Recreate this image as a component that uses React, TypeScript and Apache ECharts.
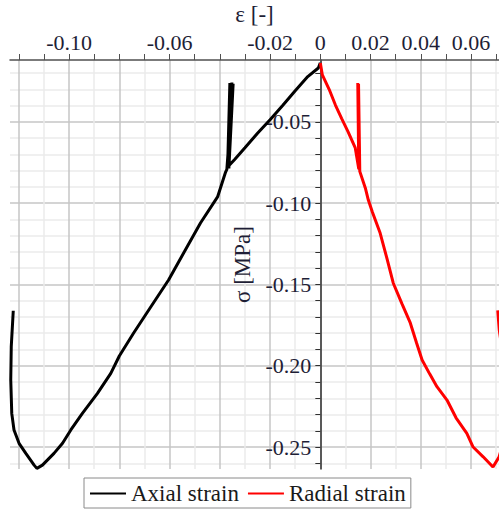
import React, { useEffect, useRef } from "react";
import * as echarts from "echarts";

// ---- data ----
const axialStrain = [
  0, -0.0008, -0.005, -0.01, -0.015, -0.02, -0.025, -0.03, -0.034, -0.0369,
  -0.036, -0.0366, -0.0352, -0.0364, -0.0347, -0.0372,
  -0.0377, -0.0409, -0.0477, -0.0544, -0.0604, -0.0675, -0.0743, -0.08, -0.0834,
  -0.0887, -0.0947, -0.0993, -0.1026, -0.106, -0.1106, -0.1128, -0.1139, -0.1172,
  -0.1199, -0.1219, -0.1228, -0.1232, -0.123, -0.1222,
];
const axialStress = [
  -0.0138, -0.0169, -0.0222, -0.0309, -0.04, -0.0487, -0.057, -0.066, -0.073, -0.0778,
  -0.0262, -0.0782, -0.0258, -0.0786, -0.0266, -0.0792,
  -0.0809, -0.0962, -0.1122, -0.1307, -0.1473, -0.1639, -0.1799, -0.194, -0.2047,
  -0.217, -0.2293, -0.2395, -0.2477, -0.2539, -0.2611, -0.2631, -0.2611, -0.2539,
  -0.2477, -0.2395, -0.2293, -0.2088, -0.1883, -0.1662,
];
const radialStrain = [
  0, 0.0008, 0.0035, 0.006, 0.0085, 0.0111, 0.0139, 0.0147, 0.0153,
  0.0149, 0.0155, 0.0152, 0.0157,
  0.0179, 0.0191, 0.0207, 0.0238, 0.0265, 0.029, 0.0325, 0.0358, 0.0383, 0.0405,
  0.0435, 0.0464, 0.0504, 0.054, 0.0583, 0.0608, 0.0648, 0.0687, 0.0711, 0.0728,
  0.0737, 0.0738, 0.0725, 0.0712, 0.0706,
];
const radialStress = [
  -0.0138, -0.0212, -0.03, -0.0397, -0.048, -0.0563, -0.0661, -0.0735, -0.079,
  -0.0262, -0.0795, -0.0268, -0.0805,
  -0.0907, -0.0981, -0.1055, -0.1184, -0.134, -0.1491, -0.162, -0.1737, -0.186, -0.1965,
  -0.205, -0.2129, -0.2211, -0.232, -0.2416, -0.25, -0.256, -0.2623, -0.2562, -0.247,
  -0.23, -0.21, -0.192, -0.178, -0.166,
];

const seriesNames = ["Axial strain", "Radial strain"];

// ---- axis ticks ----
const xTickValues = [
  -0.12, -0.11, -0.1, -0.09, -0.08, -0.07, -0.06, -0.05, -0.04, -0.03, -0.02, -0.01,
  0, 0.01, 0.02, 0.03, 0.04, 0.05, 0.06, 0.07,
];
const xLabelValues = [-0.1, -0.06, -0.02, 0, 0.02, 0.04, 0.06];
const xMinorGrid = [-0.11, -0.09, -0.07, -0.05, -0.03, -0.01, 0.01, 0.03, 0.05, 0.07];
const xMajorGrid = [-0.12, -0.1, -0.08, -0.06, -0.04, -0.02, 0, 0.02, 0.04, 0.06];

const yTickValues = [
  -0.02, -0.03, -0.04, -0.05, -0.06, -0.07, -0.08, -0.09, -0.1, -0.11, -0.12, -0.13,
  -0.14, -0.15, -0.16, -0.17, -0.18, -0.19, -0.2, -0.21, -0.22, -0.23, -0.24, -0.25, -0.26,
];
const yLabelValues = [-0.05, -0.1, -0.15, -0.2, -0.25];
const yMinorGrid = [
  -0.02, -0.03, -0.04, -0.06, -0.07, -0.08, -0.09, -0.11, -0.12, -0.13, -0.14,
  -0.16, -0.17, -0.18, -0.19, -0.21, -0.22, -0.23, -0.24, -0.26,
];
const yMajorGrid = [-0.05, -0.1, -0.15, -0.2, -0.25];

const X_MIN = -0.1235;
const X_MAX = 0.0711;
const Y_MIN = -0.2635;
const Y_MAX = -0.012;

const W = 499;
const H = 510;
const GRID = { left: 10, right: 0, top: 60, bottom: 41 };
const PLOT_W = W - GRID.left - GRID.right;
// place the y axis where strain = 0 (axis crossing)
const Y_AXIS_OFFSET = -((0 - X_MIN) / (X_MAX - X_MIN)) * PLOT_W;

const FONT = "Liberation Serif";
const TXT = "#1e1e36";

const fmt = (v: number) =>
  Math.abs(v) < 1e-9 ? "0" : (v < 0 ? "-" : "") + Math.abs(v).toFixed(2);

const zip = (a: number[], b: number[]) => a.map((v, i) => [v, b[i]]);

export default function App() {
  const ref = useRef<HTMLDivElement>(null);
  useEffect(() => {
    if (!ref.current) return;
    const chart = echarts.init(ref.current, undefined, { renderer: "svg" });
    const hiddenAxis = {
      type: "value",
      axisLabel: { show: false },
    };
    chart.setOption({
      animation: false,
      textStyle: { fontFamily: FONT },
      grid: {
        ...GRID,
        containLabel: false,
        outerBoundsMode: "none",
      },
      legend: {
        data: seriesNames,
        left: 84,
        top: 478,
        padding: [4, 5, 3, 5],
        itemGap: 8,
        itemWidth: 36,
        itemHeight: 12,
        borderColor: "#8a8a8a",
        borderWidth: 1,
        itemStyle: { opacity: 0 },
        lineStyle: { width: 2 },
        textStyle: { fontFamily: FONT, fontSize: 23, color: "#1a1a1a" },
      },
      xAxis: [
        {
          type: "value",
          position: "top",
          min: X_MIN,
          max: X_MAX,
          name: "ε [-]",
          nameLocation: "middle",
          nameGap: 30,
          nameTextStyle: { fontFamily: FONT, fontSize: 23, color: TXT },
          axisLine: { onZero: false, lineStyle: { color: "#505050", width: 1.5 } },
          axisTick: { customValues: xTickValues, length: 6, lineStyle: { color: "#505050" } },
          axisLabel: {
            customValues: xLabelValues,
            formatter: fmt,
            fontFamily: FONT,
            fontSize: 22,
            color: TXT,
            margin: 7,
          },
          splitLine: { show: false },
        },
        {
          ...hiddenAxis,
          position: "bottom",
          min: X_MIN,
          max: X_MAX,
          axisLine: { show: false, onZero: false },
          axisTick: { show: false, customValues: xMinorGrid },
          splitLine: { show: true, lineStyle: { color: "#ebebeb", width: 1.5 } },
        },
        {
          ...hiddenAxis,
          position: "bottom",
          min: X_MIN,
          max: X_MAX,
          axisLine: { show: false, onZero: false },
          axisTick: { show: false, customValues: xMajorGrid },
          splitLine: { show: true, lineStyle: { color: "#c6c6c6", width: 1.5 } },
        },
      ],
      yAxis: [
        {
          type: "value",
          position: "left",
          offset: Y_AXIS_OFFSET,
          min: Y_MIN,
          max: Y_MAX,
          name: "σ [MPa]",
          nameLocation: "middle",
          nameGap: 66,
          nameTextStyle: { fontFamily: FONT, fontSize: 23, color: TXT },
          axisLine: {
            onZero: false,
            lineStyle: { color: "#303030", width: 1.5 },
          },
          axisTick: { customValues: yTickValues, length: 5, lineStyle: { color: "#303030" } },
          axisLabel: {
            customValues: yLabelValues,
            formatter: fmt,
            fontFamily: FONT,
            fontSize: 22,
            color: TXT,
            margin: 9,
          },
          splitLine: { show: false },
        },
        {
          ...hiddenAxis,
          position: "right",
          min: Y_MIN,
          max: Y_MAX,
          axisLine: { show: false, onZero: false },
          axisTick: { show: false, customValues: yMinorGrid },
          splitLine: { show: true, lineStyle: { color: "#ebebeb", width: 1.5 } },
        },
        {
          ...hiddenAxis,
          position: "right",
          min: Y_MIN,
          max: Y_MAX,
          axisLine: { show: false, onZero: false },
          axisTick: { show: false, customValues: yMajorGrid },
          splitLine: { show: true, lineStyle: { color: "#c6c6c6", width: 1.5 } },
        },
      ],
      series: [
        {
          name: seriesNames[0],
          type: "line",
          xAxisIndex: 0,
          yAxisIndex: 0,
          data: zip(axialStrain, axialStress),
          symbol: "none",
          showSymbol: false,
          clip: true,
          color: "#000000",
          lineStyle: { color: "#000000", width: 3 },
        },
        {
          name: seriesNames[1],
          type: "line",
          xAxisIndex: 0,
          yAxisIndex: 0,
          data: zip(radialStrain, radialStress),
          symbol: "none",
          showSymbol: false,
          clip: true,
          color: "#ff0000",
          lineStyle: { color: "#ff0000", width: 3 },
        },
      ],
    });
    return () => chart.dispose();
  }, []);
  return (
    <div
      ref={ref}
      style={{ position: "absolute", left: 0, top: 0, width: W, height: H }}
    />
  );
}
